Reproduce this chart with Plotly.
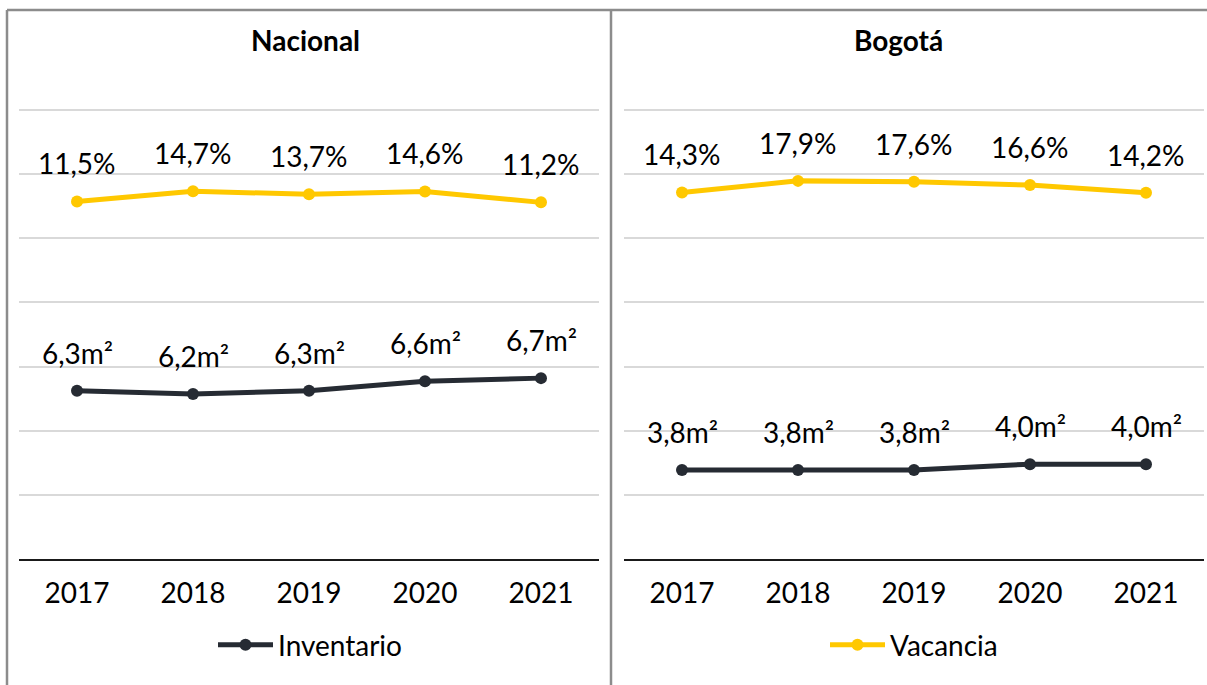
import plotly.graph_objects as go

years = ["2017", "2018", "2019", "2020", "2021"]
nac_inventario = [6.3, 6.2, 6.3, 6.6, 6.7]
nac_vacancia = [11.5, 14.7, 13.7, 14.6, 11.2]
bog_inventario = [3.8, 3.8, 3.8, 4.0, 4.0]
bog_vacancia = [14.3, 17.9, 17.6, 16.6, 14.2]
panel_titles = ["Nacional", "Bogotá"]

W, H = 1207, 685
FONT = "Lato, 'Open Sans', sans-serif"
FS = 28
DARK = "#262B33"
YELLOW = "#FFC800"
GRID = "#D9D9D9"
BORDER = "#8C8C8C"


def px(x):
    return x / W


def py(y):
    return 1 - y / H


# vacancia axis: -100..40 maps to pixel 559..110 ; extend slightly so top gridline shows
vtop = 40.6
ppu = (559 - 110) / 140.0
ydom = [py(559), py(110 - (vtop - 40) * ppu)]

fig = go.Figure()

panels = [
    dict(x="x", yv="y", yi="y3", inv=nac_inventario, vac=nac_vacancia,
         dom=[px(19), px(599)], inv_range=[0.987, 15.169], leg_inv=True, leg_vac=False),
    dict(x="x2", yv="y2", yi="y4", inv=bog_inventario, vac=bog_vacancia,
         dom=[px(624), px(1204)], inv_range=[0.757, 16.108], leg_inv=False, leg_vac=True),
]

annotations = []
for i, p in enumerate(panels):
    lo, hi = p["inv_range"]
    hi = hi + (hi - lo) * (vtop - 40) / 140.0
    p["inv_range"] = [lo, hi]
    fig.add_trace(go.Scatter(
        x=years, y=p["inv"], xaxis=p["x"], yaxis=p["yi"], name="Inventario",
        mode="lines+markers", line=dict(color=DARK, width=5),
        marker=dict(color=DARK, size=12), showlegend=p["leg_inv"], legend="legend",
        hoverinfo="skip"))
    fig.add_trace(go.Scatter(
        x=years, y=p["vac"], xaxis=p["x"], yaxis=p["yv"], name="Vacancia",
        mode="lines+markers", line=dict(color=YELLOW, width=5),
        marker=dict(color=YELLOW, size=12), showlegend=p["leg_vac"], legend="legend2",
        hoverinfo="skip"))
    for k, v in enumerate(p["inv"]):
        annotations.append(dict(
            x=k, y=v, xref=p["x"], yref=p["yi"], text=f"{v:.1f}".replace(".", ",") + "m²",
            showarrow=False, yanchor="middle", yshift=38,
            font=dict(family=FONT, size=FS, color="#000000")))
    for k, v in enumerate(p["vac"]):
        annotations.append(dict(
            x=k, y=v, xref=p["x"], yref=p["yv"], text=f"{v:.1f}".replace(".", ",") + "%",
            showarrow=False, yanchor="middle", yshift=38,
            font=dict(family=FONT, size=FS, color="#000000")))

# panel titles
for t, cx in zip(panel_titles, [305, 898]):
    annotations.append(dict(
        x=px(cx), y=py(40), xref="paper", yref="paper", text=f"<b>{t}</b>",
        showarrow=False, xanchor="center", yanchor="middle",
        font=dict(family=FONT, size=FS, color="#000000")))

xcommon = dict(type="category", range=[-0.5, 4.5], showgrid=False, zeroline=False,
               showline=True, linecolor="#1A1A1A", linewidth=1.5,
               ticks="outside", ticklen=9, tickcolor="rgba(0,0,0,0)",
               tickfont=dict(family=FONT, size=FS, color="#000000"), fixedrange=True)
ycommon_v = dict(range=[-100, vtop], dtick=20, tick0=0, showgrid=True, gridcolor=GRID, gridwidth=1.5,
                 zeroline=False, showticklabels=False, showline=False, ticks="", domain=ydom)
ycommon_i = dict(showgrid=False, zeroline=False, showticklabels=False, showline=False, ticks="")

fig.update_layout(
    width=W, height=H, autosize=False,
    margin=dict(l=0, r=0, t=0, b=0),
    paper_bgcolor="white", plot_bgcolor="rgba(0,0,0,0)",
    xaxis=dict(domain=panels[0]["dom"], anchor="y", **xcommon),
    xaxis2=dict(domain=panels[1]["dom"], anchor="y2", **xcommon),
    yaxis=dict(anchor="x", **ycommon_v),
    yaxis2=dict(anchor="x2", **ycommon_v),
    yaxis3=dict(anchor="x", overlaying="y", range=panels[0]["inv_range"], **ycommon_i),
    yaxis4=dict(anchor="x2", overlaying="y2", range=panels[1]["inv_range"], **ycommon_i),
    legend=dict(x=px(310), y=py(645), xanchor="center", yanchor="middle",
                orientation="h", itemwidth=55, bgcolor="rgba(0,0,0,0)",
                font=dict(family=FONT, size=FS, color="#000000")),
    legend2=dict(x=px(914), y=py(645), xanchor="center", yanchor="middle",
                 orientation="h", itemwidth=55, bgcolor="rgba(0,0,0,0)",
                 font=dict(family=FONT, size=FS, color="#000000")),
    annotations=annotations,
    shapes=[
        dict(type="line", xref="paper", yref="paper", x0=px(7), x1=1.01, y0=py(10), y1=py(10),
             line=dict(color=BORDER, width=2.5)),
        dict(type="line", xref="paper", yref="paper", x0=px(7), x1=px(7), y0=py(10), y1=-0.01,
             line=dict(color=BORDER, width=2.5)),
        dict(type="line", xref="paper", yref="paper", x0=px(611), x1=px(611), y0=py(10), y1=-0.01,
             line=dict(color=BORDER, width=2.5)),
    ],
    showlegend=True,
)

fig.write_html(
    "out.html",
    config={"displayModeBar": False},
    post_script="document.body.style.margin='0';document.body.style.overflow='hidden';",
)
